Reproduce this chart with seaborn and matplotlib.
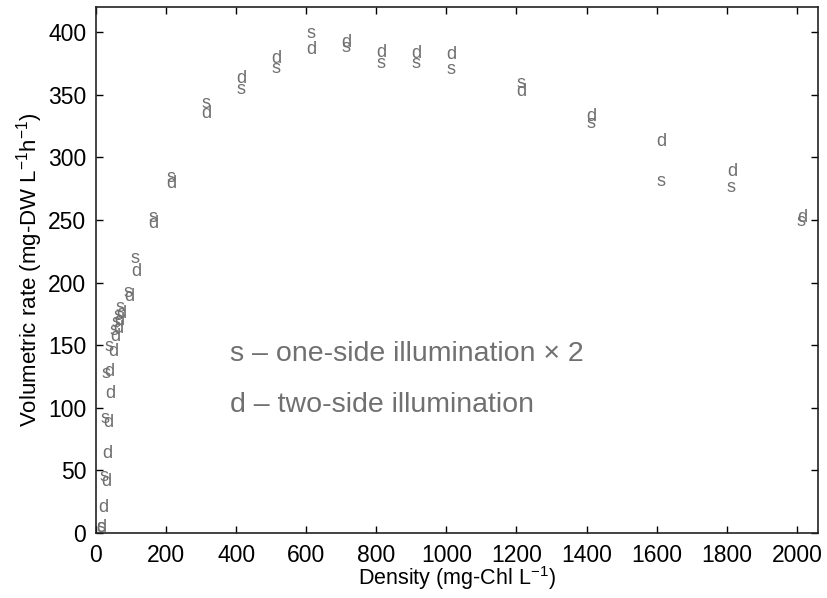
import matplotlib
matplotlib.use("Agg")
import matplotlib.pyplot as plt
import seaborn as sns

# one-side illumination (x2), marked "s"
s_density = [2, 10, 12, 16, 25, 40, 45, 50, 55, 80, 100, 150, 200, 300, 400,
             500, 600, 700, 800, 900, 1000, 1200, 1400, 1600, 1800, 2000]
s_rate = [4, 45, 91, 127, 149, 162, 168, 174, 180, 192, 219, 252, 284, 343, 354,
          371, 399, 388, 375, 375, 370, 359, 327, 281, 276, 249]

# two-side illumination, marked "d"
d_density = [2, 8, 14, 17, 22, 27, 25, 35, 42, 48, 52, 58, 80, 100, 150, 200, 300,
             400, 500, 600, 700, 800, 900, 1000, 1200, 1400, 1600, 1800, 2000]
d_rate = [4, 20, 41, 63, 88, 111, 129, 145, 157, 163, 170, 175, 189, 209, 247, 279, 335,
          363, 379, 386, 392, 384, 383, 382, 353, 333, 313, 289, 252]

x_ticks = [0, 200, 400, 600, 800, 1000, 1200, 1400, 1600, 1800, 2000]
y_ticks = [0, 50, 100, 150, 200, 250, 300, 350, 400]

sns.set_theme(style="ticks")
plt.rcParams["font.family"] = ["Liberation Sans", "DejaVu Sans"]
plt.rcParams["mathtext.fontset"] = "custom"
plt.rcParams["mathtext.rm"] = "Liberation Sans"
plt.rcParams["mathtext.it"] = "Liberation Sans:italic"

grey = "#707070"

fig, ax = plt.subplots(figsize=(8.27, 5.98), dpi=100)
fig.subplots_adjust(left=0.116, right=0.989, bottom=0.109, top=0.988)

for x, y in zip(s_density, s_rate):
    ax.text(x, y, "s", color=grey, fontsize=13, ha="left", va="center")
for x, y in zip(d_density, d_rate):
    ax.text(x, y, "d", color=grey, fontsize=13, ha="left", va="center")

ax.text(383, 143, "s \u2013 one-side illumination \u00d7 2", color=grey, fontsize=20.5,
        ha="left", va="center")
ax.text(383, 102, "d \u2013 two-side illumination", color=grey, fontsize=20.5,
        ha="left", va="center")

ax.set_xlim(0, 2060)
ax.set_ylim(0, 420)
ax.set_xticks(x_ticks)
ax.set_yticks(y_ticks)
ax.tick_params(direction="in", top=True, right=True, length=5, width=1,
               labelsize=16.5, colors="black")
ax.tick_params(axis="x", pad=8)
ax.tick_params(axis="y", pad=7)
for sp in ax.spines.values():
    sp.set_color("#222222")
    sp.set_linewidth(1.2)

ax.set_xlabel("Density (mg-Chl L$^{-1}$)", fontsize=15.5, color="black", labelpad=-2)
ax.set_ylabel("Volumetric rate (mg-DW L$^{-1}$h$^{-1}$)", fontsize=16, color="black",
              labelpad=2)

fig.savefig("out.png", dpi=100)
